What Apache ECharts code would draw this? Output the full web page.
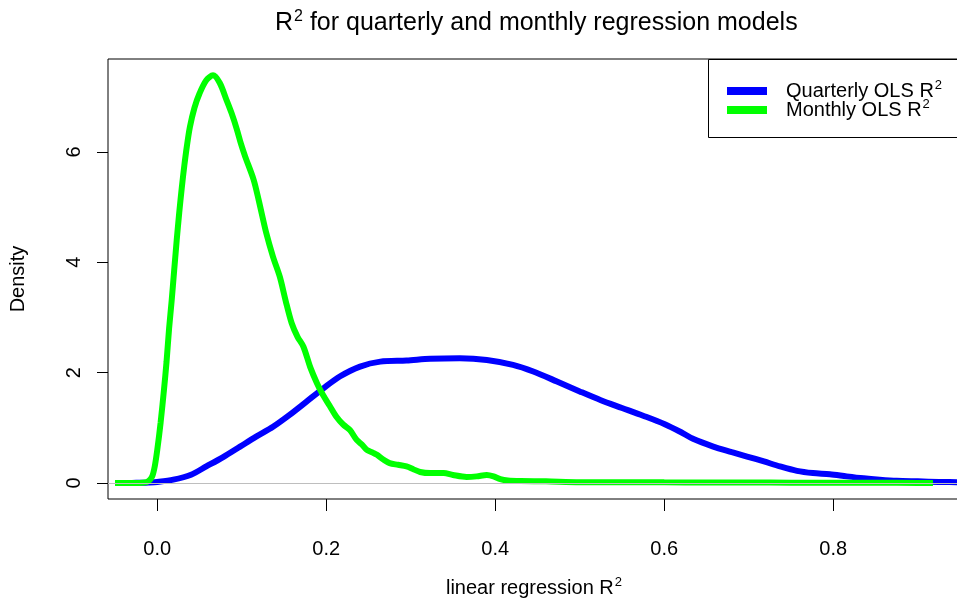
<!DOCTYPE html>
<html>
<head>
<meta charset="utf-8">
<script src="https://cdn.jsdelivr.net/npm/echarts@6/dist/echarts.min.js"></script>
<style>html,body{margin:0;padding:0;background:#fff}#c{width:957px;height:601px}</style>
</head>
<body>
<div id="c"></div>
<script>
// Quarterly OLS R^2 density: [R^2, density]
const quarterlyR2 = [-0.049,-0.03,-0.02,-0.01,0,0.019,0.04,0.058,0.078,0.098,0.117,0.137,0.157,0.177,0.197,0.216,0.24,0.264,0.295,0.323,0.358,0.39,0.421,0.445,0.473,0.5,0.525,0.55,0.575,0.6,0.62,0.634,0.658,0.68,0.698,0.718,0.737,0.757,0.776,0.796,0.816,0.836,0.855,0.875,0.9,0.925,0.95,0.97];
const quarterlyDensity = [0,0.002,0.005,0.01,0.02,0.06,0.15,0.30,0.47,0.66,0.84,1.02,1.24,1.48,1.72,1.93,2.11,2.2,2.22,2.25,2.26,2.23,2.14,2.02,1.84,1.66,1.5,1.36,1.22,1.07,0.92,0.8,0.66,0.56,0.48,0.39,0.30,0.22,0.18,0.16,0.12,0.085,0.06,0.04,0.03,0.02,0.015,0.01];
// Monthly OLS R^2 density
const monthlyR2 = [-0.05,-0.03,-0.015,-0.01,-0.006,-0.003,0,0.004,0.008,0.011,0.014,0.017,0.020,0.023,0.026,0.029,0.032,0.035,0.0386,0.044,0.05,0.058,0.066,0.074,0.082,0.088,0.094,0.099,0.104,0.114,0.12,0.129,0.137,0.145,0.152,0.159,0.166,0.173,0.181,0.189,0.196,0.204,0.212,0.22,0.228,0.236,0.242,0.248,0.255,0.26,0.268,0.275,0.285,0.295,0.303,0.311,0.323,0.339,0.35,0.366,0.378,0.39,0.398,0.406,0.415,0.43,0.46,0.5,0.55,0.6,0.65,0.7,0.75,0.8,0.85,0.9,0.918];
const monthlyDensity = [0,0,0.01,0.04,0.12,0.3,0.6,1.1,1.7,2.2,2.8,3.3,3.85,4.4,4.9,5.35,5.75,6.1,6.45,6.8,7.06,7.3,7.39,7.25,6.94,6.7,6.42,6.15,5.92,5.5,5.13,4.53,4.1,3.74,3.3,2.9,2.65,2.47,2.1,1.81,1.6,1.4,1.2,1.06,0.96,0.78,0.7,0.6,0.55,0.51,0.42,0.36,0.33,0.30,0.25,0.20,0.18,0.18,0.145,0.11,0.12,0.145,0.12,0.07,0.045,0.035,0.03,0.015,0.015,0.012,0.01,0.008,0.006,0.005,0.004,0.002,0.001];
const xTicks = [0, 0.2, 0.4, 0.6, 0.8];
const yTicks = [0, 2, 4, 6];
const seriesNames = ['Quarterly OLS R', 'Monthly OLS R'];
const titleText = ' for quarterly and monthly regression models';
const xTitle = 'linear regression R';
const yTitle = 'Density';

const FONT = 'Liberation Sans, Arial, Helvetica, sans-serif';
const zip = (a, b) => a.map((v, i) => [v, b[i]]);
const sup = {fontSize: 13, fontFamily: FONT, color: '#000', padding: [0, 0, 11, 1]};

const chart = echarts.init(document.getElementById('c'), null, {renderer: 'canvas'});
chart.setOption({
  animation: false,
  backgroundColor: '#fff',
  title: {
    text: '{a|R}{s|2}{a|' + titleText + '}',
    left: 275, top: 9, padding: 0,
    textStyle: {fontWeight: 'normal', rich: {a: {fontSize: 25, fontWeight: 'normal', fontFamily: FONT, color: '#000'}, s: {fontSize: 16, fontWeight: 'normal', fontFamily: FONT, color: '#000', padding: [0, 0, 13, 1]}}}
  },
  graphic: [{
    type: 'rect', left: 708, top: 59, z: 5,
    shape: {width: 270, height: 78},
    style: {fill: '#fff', stroke: '#000', lineWidth: 1}
  }],
  legend: {
    orient: 'vertical', left: 727, top: 79, z: 10, padding: 0,
    icon: 'rect', itemWidth: 40, itemHeight: 8, itemGap: -3,
    data: seriesNames,
    formatter: n => '{a|' + n + '}{s|2}',
    textStyle: {padding: [0, 0, 0, 14], rich: {a: {fontSize: 20, fontFamily: FONT, color: '#000'}, s: sup}}
  },
  grid: {left: 108, top: 59, width: 852, height: 440, show: true, borderColor: '#000', borderWidth: 1, containLabel: false, outerBoundsMode: 'none'},
  xAxis: {
    type: 'value', min: -0.0583, max: 0.950,
    name: '{a|' + xTitle + '}{s|2}', nameLocation: 'middle', nameGap: 77,
    nameTextStyle: {rich: {a: {fontSize: 20, fontFamily: FONT, color: '#000'}, s: sup}},
    axisLine: {show: false, onZero: false},
    axisTick: {show: true, length: 12, lineStyle: {color: '#000'}, customValues: xTicks},
    axisLabel: {fontSize: 20, fontFamily: FONT, color: '#000', margin: 40, customValues: xTicks, formatter: v => v.toFixed(1)},
    splitLine: {show: false}
  },
  yAxis: {
    type: 'value', min: -0.29, max: 7.685,
    name: yTitle, nameLocation: 'middle', nameGap: 80, nameRotate: 90,
    nameTextStyle: {fontSize: 20, fontFamily: FONT, color: '#000'},
    axisLine: {show: false, onZero: false},
    axisTick: {show: true, length: 11, lineStyle: {color: '#000'}, customValues: yTicks},
    axisLabel: {fontSize: 20, fontFamily: FONT, color: '#000', rotate: 90, margin: 24, customValues: yTicks},
    splitLine: {show: false}
  },
  series: [
    {
      name: seriesNames[0], type: 'line', data: zip(quarterlyR2, quarterlyDensity),
      smooth: 0.3, showSymbol: false, symbol: 'none', clip: true,
      lineStyle: {color: '#0000ff', width: 6}, itemStyle: {color: '#0000ff'}, z: 2,
      markLine: {silent: true, symbol: 'none', label: {show: false}, lineStyle: {color: '#bebebe', width: 1, type: 'solid'}, data: [{yAxis: 0}]}
    },
    {
      name: seriesNames[1], type: 'line', data: zip(monthlyR2, monthlyDensity),
      smooth: 0.3, showSymbol: false, symbol: 'none', clip: true,
      lineStyle: {color: '#00ff00', width: 6}, itemStyle: {color: '#00ff00'}, z: 3
    }
  ]
});
</script>
</body>
</html>
